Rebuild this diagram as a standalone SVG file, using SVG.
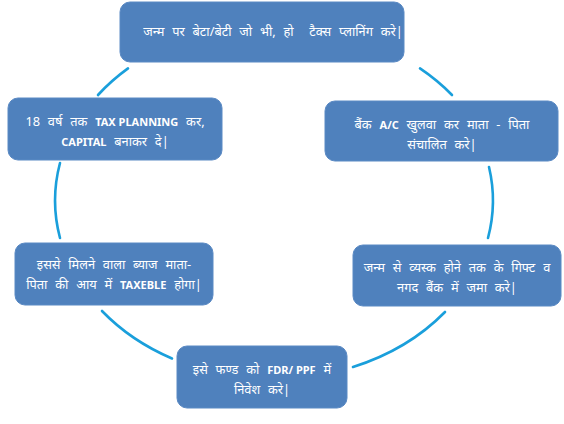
<svg xmlns="http://www.w3.org/2000/svg" width="564" height="424" viewBox="0 0 564 424">
<style>
.box{fill:#4f81bd;stroke:#5b8ac4;stroke-width:1}
.t{fill:#ffffff;font-family:"Noto Sans","Noto Sans Devanagari","Liberation Sans",sans-serif;font-size:12.8px;word-spacing:4.5px;text-anchor:middle;white-space:pre}
.b{font-weight:bold;font-size:11px;word-spacing:0}
.arc{fill:none;stroke:#1a9fdb;stroke-width:2.6;stroke-linecap:round}
</style>
<rect width="564" height="424" fill="#ffffff"/>
<g id="connectors">
<path class="arc" d="M98 95 A219 178 0 0 1 128 68.4"/>
<path class="arc" d="M420 68.4 A219 178 0 0 1 452 95"/>
<path class="arc" d="M489 167 A219 178 0 0 1 488 238"/>
<path class="arc" d="M445 312 A219 178 0 0 1 353 367"/>
<path class="arc" d="M172 358.5 A219 178 0 0 1 102 311"/>
<path class="arc" d="M60 238 A219 178 0 0 1 60 163"/>
</g>
<g id="n1">
<rect class="box" x="120" y="2" width="284" height="60" rx="10"/>
<text class="t" x="273" y="36">जन्म पर बेटा/बेटी जो भी, हो  टैक्स प्लानिंग करे|</text>
</g>
<g id="n2">
<rect class="box" x="325" y="101" width="233" height="60" rx="10"/>
<text class="t" x="442" y="129">बैंक <tspan class="b">A/C</tspan> खुलवा कर माता - पिता</text>
<text class="t" x="442" y="149">संचालित करे|</text>
</g>
<g id="n3">
<rect class="box" x="353" y="245" width="208" height="61" rx="10"/>
<text class="t" x="457" y="272">जन्म से व्यस्क होने तक के गिफ्ट व</text>
<text class="t" x="457" y="292">नगद बैंक में जमा करे|</text>
</g>
<g id="n4">
<rect class="box" x="177" y="346" width="170" height="62" rx="10"/>
<text class="t" x="262" y="374">इसे फण्ड को <tspan class="b">FDR/ PPF</tspan> में</text>
<text class="t" x="262" y="394">निवेश करे|</text>
</g>
<g id="n5">
<rect class="box" x="15" y="243" width="198" height="62" rx="10"/>
<text class="t" x="114" y="269">इससे मिलने वाला ब्याज माता-</text>
<text class="t" x="114" y="289">पिता की आय में <tspan class="b">TAXEBLE</tspan> होगा|</text>
</g>
<g id="n6">
<rect class="box" x="8" y="98" width="214" height="62" rx="10"/>
<text class="t" x="115" y="126">18 वर्ष तक <tspan class="b">TAX PLANNING</tspan> कर,</text>
<text class="t" x="115" y="146"><tspan class="b">CAPITAL</tspan> बनाकर दे|</text>
</g>
</svg>
